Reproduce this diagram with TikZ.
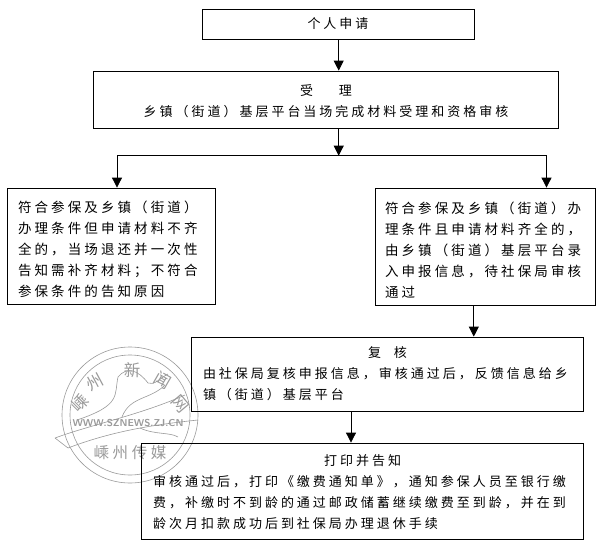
\documentclass[tikz,border=0pt]{standalone}
\usepackage{fontspec}
\usepackage{tikz}
\usetikzlibrary{positioning,arrows.meta,calc}
\newfontfamily\cjk[LetterSpace=23]{Noto Sans CJK SC}
\newcommand{\cjkm}{\cjk\fontsize{13}{21}\selectfont}
\newcommand{\cjkl}{\cjk\fontsize{13.5}{21}\selectfont}
\newcommand{\topgap}[1]{\rule{0pt}{#1pt}}
\definecolor{stampgray}{gray}{0.6}
\tikzset{
  boxnode/.style={draw,line width=.8pt,inner sep=0pt,align=left,font=\cjkm},
  flowline/.style={line width=.8pt,-{Triangle[length=10pt,width=10pt]}},
  stampline/.style={draw=stampgray,line width=.6pt},
  stampchar/.style={text=stampgray,font=\cjk\fontsize{16.5}{17}\selectfont,inner sep=0pt}
}
\begin{document}
\begin{tikzpicture}[x=1pt,y=-1pt]
\useasboundingbox (0,0) rectangle (600,549);
% stamp behind the boxes
\draw[stampline] (130,415) circle (68);
\draw[stampline] (130,415) circle (60);
\draw[stampline] (118,377) .. controls (127,366) and (138,370) .. (148,383) .. controls (154,386) and (160,378) .. (168,374);
\draw[stampline] (118,377) .. controls (114,395) and (122,405) .. (77,420);
\draw[stampline] (165,385) .. controls (150,400) and (130,396) .. (122,417);
\draw[stampline] (55,438) .. controls (90,425) and (140,415) .. (185,395);
\draw[stampline] (68,448) .. controls (110,432) and (150,425) .. (198,420);
\draw[stampline] (55,438) -- (68,448);
\draw[stampline] (140,428) .. controls (155,435) and (170,432) .. (178,437);
\node[stampchar,rotate=45] (stampa) at (80,403) {嵊};
\node[stampchar,rotate=28] (stampb) at (95,382) {州};
\node[stampchar] (stampc) at (132,370) {新};
\node[stampchar,rotate=-30] (stampd) at (163,380) {闻};
\node[stampchar,rotate=-50] (stampe) at (180,404) {网};
\node[text=stampgray,font=\sffamily\bfseries\fontsize{10}{10}\selectfont,inner sep=0pt] (stampurl) at (128,423) {WWW.SZNEWS.ZJ.CN};
\node[text=stampgray,font=\cjk\fontsize{15.5}{16}\selectfont,inner sep=0pt] (stampname) at (130,453) {嵊州传媒};
% boxes
\node[boxnode,minimum width=272,minimum height=30] (apply) at (338,24) {个人申请};
\node[boxnode,minimum width=465,minimum height=57,align=center] (accept) at (326,99.5) {\topgap{14}受\qquad 理\\乡镇（街道）基层平台当场完成材料受理和资格审核};
\node[boxnode,minimum width=208,minimum height=116,text width=186,font=\cjkl] (reject) at (111,246) {\topgap{18}符合参保及乡镇（街道）\\办理条件但申请材料不齐\\全的，当场退还并一次性\\告知需补齐材料；不符合\\参保条件的告知原因};
\node[boxnode,minimum width=220,minimum height=117,text width=200,font=\cjkl] (enter) at (485,246.5) {\topgap{18}符合参保及乡镇（街道）办\\理条件且申请材料齐全的，\\由乡镇（街道）基层平台录\\入申报信息，待社保局审核\\通过};
\node[boxnode,minimum width=392,minimum height=74,text width=369] (review) at (387.5,374) {\makebox[\linewidth][c]{复\quad 核}\\由社保局复核申报信息，审核通过后，反馈信息给乡\\镇（街道）基层平台};
\node[boxnode,minimum width=442,minimum height=96,text width=419] (notify) at (362.6,491) {\topgap{14}\makebox[\linewidth][c]{打印并告知}\\审核通过后，打印《缴费通知单》，通知参保人员至银行缴\\费，补缴时不到龄的通过邮政储蓄继续缴费至到龄，并在到\\龄次月扣款成功后到社保局办理退休手续};
% connectors
\coordinate (fork) at (338.7,155.7);
\coordinate (forkleft) at (117,155.7);
\coordinate (forkright) at (546.5,155.7);
\coordinate (enterout) at (473.8,305);
\coordinate (reviewout) at (351,411);
\draw[flowline] (apply.south -| fork) -- (accept.north -| fork);
\draw[flowline] (accept.south -| fork) -- (fork);
\draw[line width=.8pt] (forkleft) -- (forkright);
\draw[flowline] (forkleft) -- (reject.north -| forkleft);
\draw[flowline] (forkright) -- (enter.north -| forkright);
\draw[flowline] (enterout) -- (review.north -| enterout);
\draw[flowline] (reviewout) -- (notify.north -| reviewout);
\end{tikzpicture}
\end{document}
